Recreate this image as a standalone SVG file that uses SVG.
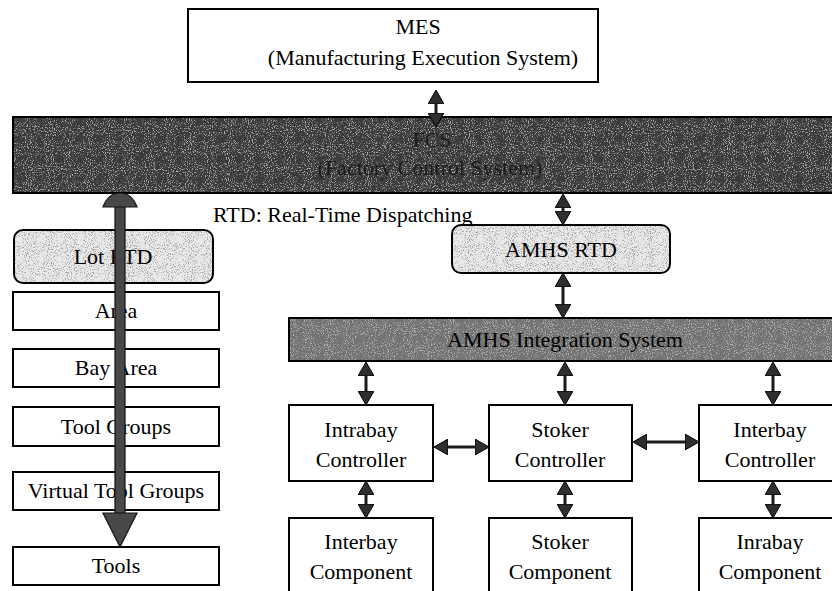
<svg xmlns="http://www.w3.org/2000/svg" width="832" height="591" viewBox="0 0 832 591" font-family="'Liberation Serif', 'Times New Roman', serif">
  <style>
    .box { fill: #ffffff; stroke: #000000; stroke-width: 2; }
    .bar-dark { fill: #3a3a3a; stroke: #000000; stroke-width: 2; }
    .bar-mid { fill: #727272; stroke: #000000; stroke-width: 2; }
    .rtd { fill: #e9e9e9; stroke: #000000; stroke-width: 2; }
    text { font-family: 'Liberation Serif', 'Times New Roman', serif; font-size: 22px; fill: #000000; text-anchor: middle; }
    .dim { fill: #1c1c1c; }
    .link { fill: none; stroke: #1a1a1a; stroke-width: 3; }
    .thick { fill: #484848; stroke: #111111; stroke-width: 1.2; }
  </style>
  <defs>
    <!-- grain overlays for the shaded panels -->
    <filter id="specksWhite" x="0" y="0" width="1" height="1" color-interpolation-filters="sRGB">
      <feTurbulence type="fractalNoise" baseFrequency="0.95" numOctaves="2" seed="4" result="n"/>
      <feColorMatrix in="n" type="matrix" values="0 0 0 0 1  0 0 0 0 1  0 0 0 0 1  6 0 0 0 -3.2" result="w"/>
      <feComposite in="w" in2="SourceAlpha" operator="in"/>
    </filter>
    <filter id="specksBlack" x="0" y="0" width="1" height="1" color-interpolation-filters="sRGB">
      <feTurbulence type="fractalNoise" baseFrequency="0.95" numOctaves="2" seed="9" result="n"/>
      <feColorMatrix in="n" type="matrix" values="0 0 0 0 0  0 0 0 0 0  0 0 0 0 0  6 0 0 0 -3.2" result="b"/>
      <feComposite in="b" in2="SourceAlpha" operator="in"/>
    </filter>
    <marker id="head" viewBox="0 -8 14 16" refX="0" refY="0" markerWidth="14" markerHeight="16" markerUnits="userSpaceOnUse" orient="auto-start-reverse">
      <path d="M0,-8 L14,0 L0,8 Z" fill="#2e2e2e" stroke="#000000" stroke-width="1"/>
    </marker>
  </defs>

  <!-- top level: MES -->
  <g id="mes">
    <rect class="box" x="188" y="9" width="410" height="73"/>
    <text x="418" y="34">MES</text>
    <text x="423" y="65">(Manufacturing Execution System)</text>
  </g>

  <!-- factory control bar -->
  <g id="fcs">
    <rect class="bar-dark" x="13" y="117" width="830" height="76"/>
    <rect x="14" y="118" width="828" height="74" fill="#000" opacity="0.55" filter="url(#specksWhite)"/>
    <text class="dim" x="432" y="147">FCS</text>
    <text class="dim" x="430" y="175">(Factory Control System)</text>
  </g>

  <g id="rtd-note">
    <text x="213" y="222" style="text-anchor:start">RTD: Real-Time Dispatching</text>
  </g>

  <!-- left column -->
  <g id="lot-rtd">
    <rect class="rtd" x="14" y="230" width="199" height="53" rx="9" ry="9"/>
    <rect x="15" y="231" width="197" height="51" rx="8" ry="8" fill="#000" opacity="0.3" filter="url(#specksBlack)"/>
    <text x="113" y="264">Lot RTD</text>
  </g>
  <g id="area">
    <rect class="box" x="13" y="292" width="206" height="38"/>
    <text x="116" y="318">Area</text>
  </g>
  <g id="bay-area">
    <rect class="box" x="13" y="349" width="206" height="38"/>
    <text x="116" y="375">Bay Area</text>
  </g>
  <g id="tool-groups">
    <rect class="box" x="13" y="407" width="206" height="39"/>
    <text x="116" y="434">Tool Groups</text>
  </g>
  <g id="virtual-tool-groups">
    <rect class="box" x="13" y="472" width="206" height="38"/>
    <text x="116" y="498">Virtual Tool Groups</text>
  </g>
  <g id="tools">
    <rect class="box" x="13" y="547" width="206" height="38"/>
    <text x="116" y="573">Tools</text>
  </g>

  <!-- AMHS side -->
  <g id="amhs-rtd">
    <rect class="rtd" x="452" y="225" width="218" height="48" rx="9" ry="9"/>
    <rect x="453" y="226" width="216" height="46" rx="8" ry="8" fill="#000" opacity="0.3" filter="url(#specksBlack)"/>
    <text x="561" y="257">AMHS RTD</text>
  </g>
  <g id="amhs-integration">
    <rect class="bar-mid" x="289" y="318" width="554" height="43"/>
    <rect x="290" y="319" width="552" height="41" fill="#000" opacity="0.45" filter="url(#specksWhite)"/>
    <text x="565" y="347">AMHS Integration System</text>
  </g>

  <g id="intrabay-controller">
    <rect class="box" x="289" y="405" width="144" height="76"/>
    <text x="361" y="437">Intrabay</text>
    <text x="361" y="467">Controller</text>
  </g>
  <g id="stoker-controller">
    <rect class="box" x="489" y="405" width="143" height="76"/>
    <text x="560" y="437">Stoker</text>
    <text x="560" y="467">Controller</text>
  </g>
  <g id="interbay-controller">
    <rect class="box" x="699" y="405" width="143" height="76"/>
    <text x="770" y="437">Interbay</text>
    <text x="770" y="467">Controller</text>
  </g>

  <g id="interbay-component">
    <rect class="box" x="289" y="518" width="144" height="80"/>
    <text x="361" y="549">Interbay</text>
    <text x="361" y="579">Component</text>
  </g>
  <g id="stoker-component">
    <rect class="box" x="489" y="518" width="143" height="80"/>
    <text x="560" y="549">Stoker</text>
    <text x="560" y="579">Component</text>
  </g>
  <g id="inrabay-component">
    <rect class="box" x="699" y="518" width="143" height="80"/>
    <text x="770" y="549">Inrabay</text>
    <text x="770" y="579">Component</text>
  </g>

  <!-- connectors -->
  <g id="connectors">
    <path class="link" d="M436,104 L436,113" marker-start="url(#head)" marker-end="url(#head)"/>
    <path class="link" d="M563,208 L563,211" marker-start="url(#head)" marker-end="url(#head)"/>
    <path class="link" d="M563,287 L563,304" marker-start="url(#head)" marker-end="url(#head)"/>

    <path class="link" d="M366,376 L366,391" marker-start="url(#head)" marker-end="url(#head)"/>
    <path class="link" d="M565,376 L565,391" marker-start="url(#head)" marker-end="url(#head)"/>
    <path class="link" d="M773,376 L773,391" marker-start="url(#head)" marker-end="url(#head)"/>

    <path class="link" d="M366,495 L366,504" marker-start="url(#head)" marker-end="url(#head)"/>
    <path class="link" d="M565,495 L565,504" marker-start="url(#head)" marker-end="url(#head)"/>
    <path class="link" d="M773,495 L773,504" marker-start="url(#head)" marker-end="url(#head)"/>

    <path class="link" d="M448,447 L475,447" marker-start="url(#head)" marker-end="url(#head)"/>
    <path class="link" d="M647,442 L685,442" marker-start="url(#head)" marker-end="url(#head)"/>

    <!-- wide dispatch arrow through the left column -->
    <g id="lot-dispatch-arrow">
      <rect class="thick" x="115" y="206" width="10" height="308"/>
      <path class="thick" d="M103,207 C106,199 112,193 120,193 C128,193 134,199 137,207 Z"/>
      <path class="thick" d="M103,513 L137,513 L120,547 Z"/>
    </g>
  </g>
</svg>
